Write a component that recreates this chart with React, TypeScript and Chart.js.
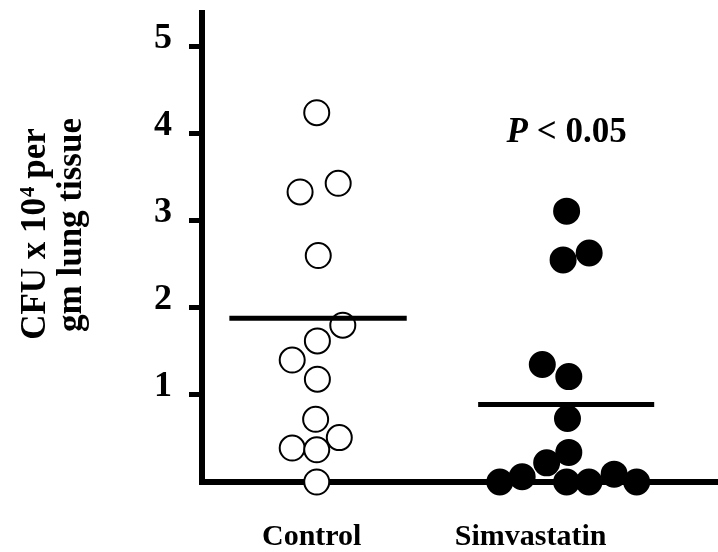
import React, { useEffect, useRef } from "react";
import { Chart, registerables } from "chart.js";

Chart.register(...registerables);

const FAMILY = "'Liberation Serif', 'Times New Roman', serif";

const groups = ["Control", "Simvastatin"];
const yTicks = [1, 2, 3, 4, 5];

// CFU x 10^4 per gm lung tissue, per animal
const controlValues = [4.24, 3.33, 3.43, 2.6, 1.8, 1.62, 1.4, 1.18, 0.72, 0.51, 0.39, 0.37, 0];
// horizontal jitter of each dot around its group
const controlJitter = [0.023, -0.053, 0.121, 0.03, 0.142, 0.026, -0.089, 0.026, 0.018, 0.126, -0.089, 0.023, 0.023];

const simvaValues = [3.11, 2.55, 2.63, 1.35, 1.21, 0.73, 0.34, 0.22, 0.06, 0, 0, 0, 0.09, 0];
const simvaJitter = [0.164, 0.148, 0.267, 0.053, 0.174, 0.168, 0.174, 0.073, -0.039, -0.141, 0.164, 0.266, 0.381, 0.484];

const medians = [1.88, 0.89];
const medianStart = [-0.376, -0.24];
const medianEnd = [0.434, 0.564];

const titleMain = "CFU x 10";
const titleSup = "4";
const titleRest = " per";
const titleLine2 = "gm lung tissue";
const pLetter = "P";
const pRest = " < 0.05";

const annotations = {
  id: "annotations",
  afterDraw(chart: any) {
    const ctx = chart.ctx as CanvasRenderingContext2D;
    const xs = chart.scales.x;
    const ys = chart.scales.y;
    const big = `bold 35px ${FAMILY}`;
    const sup = `bold 21px ${FAMILY}`;

    // y-axis title, line 1 (with superscript)
    ctx.save();
    ctx.fillStyle = "#000";
    ctx.textBaseline = "alphabetic";
    ctx.textAlign = "left";
    ctx.font = big;
    const w1 = ctx.measureText(titleMain).width;
    const w3 = ctx.measureText(titleRest).width;
    ctx.font = sup;
    const w2 = ctx.measureText(titleSup).width;
    const total = w1 + w2 + w3;
    ctx.translate(44.5, 234);
    ctx.rotate(-Math.PI / 2);
    const x0 = -total / 2;
    ctx.font = big;
    ctx.fillText(titleMain, x0, 0);
    ctx.font = sup;
    ctx.fillText(titleSup, x0 + w1 + 1, -11);
    ctx.font = big;
    ctx.fillText(titleRest, x0 + w1 + w2, 0);
    ctx.restore();

    // y-axis title, line 2
    ctx.save();
    ctx.fillStyle = "#000";
    ctx.textBaseline = "alphabetic";
    ctx.textAlign = "center";
    ctx.font = big;
    ctx.translate(81, 225);
    ctx.rotate(-Math.PI / 2);
    ctx.fillText(titleLine2, 0, 0);
    ctx.restore();

    // P value
    ctx.save();
    ctx.fillStyle = "#000";
    ctx.textBaseline = "alphabetic";
    ctx.textAlign = "left";
    const pItalic = `italic bold 35px ${FAMILY}`;
    const pBold = `bold 35px ${FAMILY}`;
    ctx.font = pItalic;
    const pw1 = ctx.measureText(pLetter).width;
    ctx.font = pBold;
    const pw2 = ctx.measureText(pRest).width;
    const cx = xs.getPixelForValue(2.164);
    const by = ys.getPixelForValue(3.9);
    const px0 = cx - (pw1 + pw2) / 2;
    ctx.font = pItalic;
    ctx.fillText(pLetter, px0, by);
    ctx.font = pBold;
    ctx.fillText(pRest, px0 + pw1, by);
    ctx.restore();
  },
};

export default function App() {
  const canvasRef = useRef<HTMLCanvasElement | null>(null);

  useEffect(() => {
    if (!canvasRef.current) return;
    const medianSets = medians.map((m, g) => ({
      label: `median-${groups[g]}`,
      data: [
        { x: g + 1 + medianStart[g], y: m },
        { x: g + 1 + medianEnd[g], y: m },
      ],
      showLine: true,
      borderColor: "#000",
      borderWidth: 5,
      pointRadius: 0,
      clip: false,
      order: 0,
    }));
    const chart = new Chart(canvasRef.current, {
      type: "scatter",
      data: {
        datasets: [
          ...medianSets,
          {
            label: groups[0],
            data: controlValues.map((v, i) => ({ x: 1 + controlJitter[i], y: v })),
            pointRadius: 12.5,
            pointBorderWidth: 2,
            pointBackgroundColor: "#fff",
            pointBorderColor: "#000",
            clip: false,
            order: 1,
          },
          {
            label: groups[1],
            data: simvaValues.map((v, i) => ({ x: 2 + simvaJitter[i], y: v })),
            pointRadius: 12.5,
            pointBorderWidth: 2,
            pointBackgroundColor: "#000",
            pointBorderColor: "#000",
            clip: false,
            order: 1,
          },
        ] as any,
      },
      options: {
        animation: false,
        responsive: true,
        maintainAspectRatio: false,
        layout: { autoPadding: false, padding: { top: 13, left: 0, right: 0, bottom: 0 } },
        plugins: { legend: { display: false }, tooltip: { enabled: false } },
        scales: {
          x: {
            type: "linear",
            min: 0.4991,
            max: 2.8553,
            afterBuildTicks: (scale: any) => {
              scale.ticks = groups.map((_, i) => ({ value: i + 1 }));
            },
            afterFit: (scale: any) => {
              scale.height = 70;
              scale.paddingLeft = 0;
              scale.paddingRight = 0;
            },
            ticks: {
              callback: (v: any) => groups[Math.round(Number(v)) - 1] ?? "",
              color: "#000",
              padding: 37,
              maxRotation: 0,
              autoSkip: false,
              font: { family: FAMILY, size: 30, weight: "bold" },
            },
            grid: { display: false, drawTicks: false, tickLength: 0 },
            border: { display: true, color: "#000", width: 6 },
          },
          y: {
            type: "linear",
            min: 0,
            max: 5.385,
            afterBuildTicks: (scale: any) => {
              scale.ticks = yTicks.map((v) => ({ value: v }));
            },
            afterFit: (scale: any) => {
              scale.width = 202;
              scale.paddingTop = 0;
              scale.paddingBottom = 0;
            },
            ticks: {
              callback: (v: any) => String(v),
              color: "#000",
              padding: 17,
              labelOffset: -8,
              font: { family: FAMILY, size: 36, weight: "bold" },
            },
            grid: {
              display: true,
              drawOnChartArea: false,
              drawTicks: true,
              tickLength: 13,
              tickWidth: 5,
              lineWidth: 5,
              tickColor: "#000",
              color: "#000",
            },
            border: { display: true, color: "#000", width: 6 },
          },
        },
      } as any,
      plugins: [annotations],
    });
    return () => chart.destroy();
  }, []);

  return (
    <div style={{ position: "fixed", left: 0, top: 0, width: 718, height: 552, background: "#fff" }}>
      <canvas ref={canvasRef} />
    </div>
  );
}
